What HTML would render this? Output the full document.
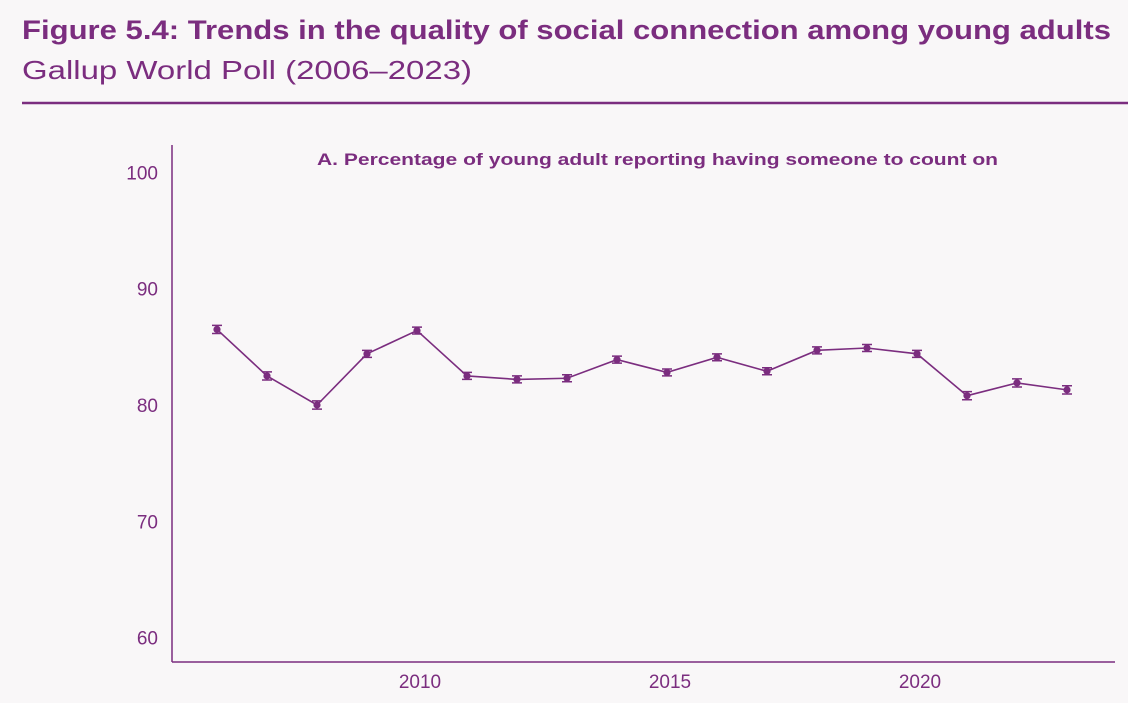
<!DOCTYPE html>
<html><head><meta charset="utf-8"><style>
body{margin:0;width:1128px;height:698px;background:#f9f7f8;overflow:hidden;font-family:"Liberation Sans",sans-serif}
</style></head><body>
<svg width="1128" height="698">
<text x="22" y="39" font-size="27" font-weight="bold" fill="#7b2d7f" textLength="1089" lengthAdjust="spacingAndGlyphs">Figure 5.4: Trends in the quality of social connection among young adults</text>
<text x="22" y="79" font-size="26" fill="#7b2d7f" textLength="450" lengthAdjust="spacingAndGlyphs">Gallup World Poll (2006–2023)</text>
<line x1="22" y1="103" x2="1128" y2="103" stroke="#7b2d7f" stroke-width="2.5"/>
<text x="317" y="165" font-size="17" font-weight="bold" fill="#7b2d7f" textLength="681" lengthAdjust="spacingAndGlyphs">A. Percentage of young adult reporting having someone to count on</text>
<g id="chart"></g>
</svg>
<script>
const years=[2006,2007,2008,2009,2010,2011,2012,2013,2014,2015,2016,2017,2018,2019,2020,2021,2022,2023];
const values=[86.5,82.5,80.0,84.4,86.4,82.5,82.2,82.3,83.9,82.8,84.1,82.9,84.7,84.9,84.4,80.8,81.9,81.3];
const errors=[0.35,0.35,0.35,0.3,0.3,0.3,0.3,0.3,0.3,0.3,0.3,0.3,0.3,0.3,0.3,0.35,0.35,0.35];
const yTicks=[60,70,80,90,100];
const xTicks=[2010,2015,2020];
const NS="http://www.w3.org/2000/svg";
const g=document.getElementById('chart');
const C='#7b2d7f';
function X(v){return 217+(v-2006)*50;}
function Y(v){return 405-(v-80)*11.63;}
function mk(t,a){const e=document.createElementNS(NS,t);for(const k in a)e.setAttribute(k,a[k]);g.appendChild(e);return e;}
let e=mk('line',{x1:172,y1:145,x2:172,y2:662,stroke:C,'stroke-width':1.5});


e=mk('line',{x1:172,y1:662,x2:1115,y2:662,stroke:C,'stroke-width':1.5});


yTicks.forEach(v=>{const t=mk('text',{x:158,y:Y(v)+7,'font-size':19,fill:C,'text-anchor':'end'});t.textContent=v;

});
xTicks.forEach(v=>{const t=mk('text',{x:X(v)+3,y:688,'font-size':19,fill:C,'text-anchor':'middle'});t.textContent=v;

});
const p=mk('polyline',{points:years.map((y,i)=>X(y)+','+Y(values[i])).join(' '),fill:'none',stroke:C,'stroke-width':1.6});


years.forEach((y,i)=>{const x=X(y),v=values[i],t=Y(v+errors[i]),b=Y(v-errors[i]);
const eb=mk('path',{d:`M${x-5},${t}H${x+5}M${x},${t}V${b}M${x-5},${b}H${x+5}`,stroke:C,'stroke-width':1.5,fill:'none'});


const c=mk('circle',{cx:x,cy:Y(v),r:3.6,fill:C});

});
</script>
</body></html>
